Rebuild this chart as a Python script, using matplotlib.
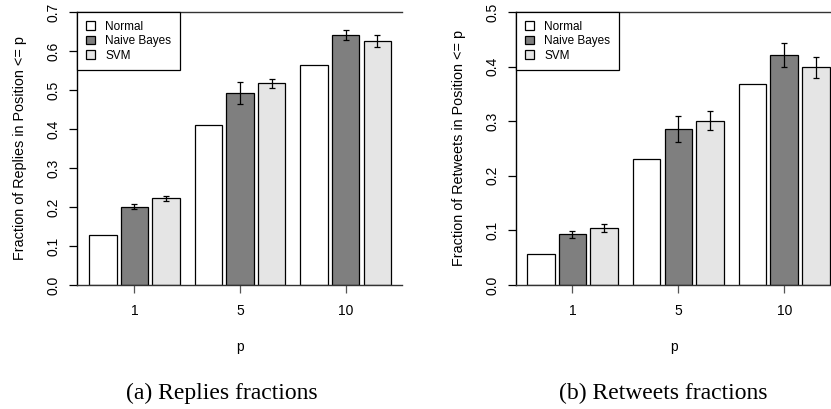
import matplotlib.pyplot as plt
import numpy as np

# values
p_labels = ["1", "5", "10"]
methods = ["Normal", "Naive Bayes", "SVM"]
method_colors = ["#FFFFFF", "#7F7F7F", "#E5E5E5"]

replies_normal = [0.127, 0.409, 0.564]
replies_nb = [0.201, 0.492, 0.641]
replies_svm = [0.222, 0.517, 0.626]
replies_nb_err = [0.006, 0.029, 0.012]
replies_svm_err = [0.006, 0.011, 0.016]

retweets_normal = [0.056, 0.231, 0.368]
retweets_nb = [0.093, 0.285, 0.422]
retweets_svm = [0.105, 0.301, 0.399]
retweets_nb_err = [0.0065, 0.024, 0.022]
retweets_svm_err = [0.0076, 0.017, 0.019]

W, H = 831, 409
fig = plt.figure(figsize=(W / 100, H / 100), dpi=100)
plt.rcParams['font.family'] = ['Liberation Sans', 'DejaVu Sans']

group_step = 3.85
offsets = [-1.15, 0.0, 1.15]
centers = np.arange(3) * group_step


def draw_panel(ax, normal, nb, svm, nb_err, svm_err, ymax, yticks, ylabel, caption, cap_x, xlim):
    series = [normal, nb, svm]
    errs = [None, nb_err, svm_err]
    for i, (vals, err) in enumerate(zip(series, errs)):
        ax.bar(centers + offsets[i], vals, width=1.0, color=method_colors[i], edgecolor="black",
               linewidth=0.9, label=methods[i], zorder=2)
        if err is not None:
            ax.errorbar(centers + offsets[i], vals, yerr=err, fmt="none", ecolor="black",
                        elinewidth=0.9, capsize=2.2, capthick=0.9, zorder=3)
    ax.set_xlim(*xlim)
    ax.set_ylim(0, ymax)
    for s in ["top", "right", "bottom"]:
        ax.spines[s].set_visible(False)
    ax.spines["left"].set_linewidth(1.0)
    ax.axhline(0, color="#333333", lw=1.0, zorder=4, clip_on=False)
    ax.axhline(ymax, color="#333333", lw=1.0, zorder=4, clip_on=False)
    ax.set_yticks(yticks)
    ax.set_yticklabels([f"{t:.1f}" for t in yticks], rotation=90, va="center", fontsize=10)
    ax.set_xticks(centers)
    ax.set_xticklabels(p_labels, fontsize=10)
    ax.tick_params(axis="y", length=5.8, width=0.9, pad=6)
    ax.tick_params(axis="x", length=5.8, width=0.9, pad=8, color="#555555")
    ax.set_xlabel("p", fontsize=10, labelpad=16)
    ax.set_ylabel(ylabel, fontsize=10.4, labelpad=14)
    leg = ax.legend(loc="upper left", bbox_to_anchor=(0, 1), borderaxespad=0, fancybox=False,
                    edgecolor="black", framealpha=1, fontsize=8.5, handlelength=0.75,
                    handleheight=0.75, handletextpad=0.9, labelspacing=0.2, borderpad=0.75)
    leg.get_frame().set_linewidth(0.9)
    fig.text(cap_x / W, 1 - 393 / H, caption, ha="center", va="center",
             fontsize=17, family=["Liberation Serif", "DejaVu Serif"])


y0 = 1 - 285 / H
h = (285 - 12) / H
ax1 = fig.add_axes([77 / W, y0, 325 / W, h])
ax2 = fig.add_axes([516 / W, y0, 315 / W, h])

draw_panel(ax1, replies_normal, replies_nb, replies_svm, replies_nb_err, replies_svm_err,
           0.7, np.arange(0, 0.71, 0.1), "Fraction of Replies in Position <= p",
           "(a) Replies fractions", 222, (-2.09, 9.75))
draw_panel(ax2, retweets_normal, retweets_nb, retweets_svm, retweets_nb_err, retweets_svm_err,
           0.5, np.arange(0, 0.51, 0.1), "Fraction of Retweets in Position <= p",
           "(b) Retweets fractions", 663, (-2.05, 9.4))

fig.savefig("out.png", dpi=100)
